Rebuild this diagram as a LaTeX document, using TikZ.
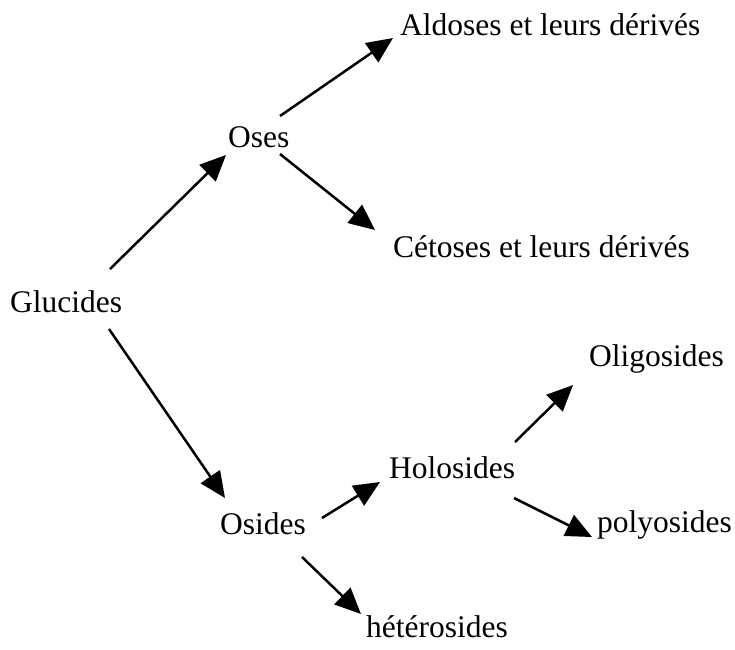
\documentclass[tikz,border=0pt]{standalone}
\usepackage{fontspec}
\setmainfont{Liberation Serif}
\usetikzlibrary{arrows.meta}
\begin{document}
\begin{tikzpicture}[x=1pt,y=-1pt,
  term/.style={anchor=base west,inner sep=0pt,font=\fontsize{31.5}{36}\selectfont},
  link/.style={line width=2.5pt,-{Triangle[length=26pt,width=23pt]}}]
\useasboundingbox (0,0) rectangle (735,649);
% classification terms
\node[term] (glu)   at (10,312)  {Glucides};
\node[term] (oses)  at (228,147) {Oses};
\node[term] (ald)   at (400,35)  {Aldoses et leurs dérivés};
\node[term] (cet)   at (393,257) {Cétoses et leurs dérivés};
\node[term] (osi)   at (220,534) {Osides};
\node[term] (holo)  at (389,478) {Holosides};
\node[term] (oligo) at (589,366) {Oligosides};
\node[term] (poly)  at (597,532) {polyosides};
\node[term] (het)   at (366,637) {hétérosides};
% branches
\draw[link] ([shift={(100,-43)}]glu.base west)  -- ([shift={(-2,8)}]oses.base west);
\draw[link] ([shift={(52,-31)}]oses.base west)  -- ([shift={(-7,3)}]ald.base west);
\draw[link] ([shift={(52,7)}]oses.base west)    -- ([shift={(-18,-27)}]cet.base west);
\draw[link] ([shift={(99,17)}]glu.base west)    -- ([shift={(5,-36)}]osi.base west);
\draw[link] ([shift={(102,-16)}]osi.base west)  -- ([shift={(-9,4)}]holo.base west);
\draw[link] ([shift={(82,23)}]osi.base west)    -- ([shift={(-5,-23)}]het.base west);
\draw[link] ([shift={(126,-36)}]holo.base west) -- ([shift={(-16,19)}]oligo.base west);
\draw[link] ([shift={(125,20)}]holo.base west)  -- ([shift={(-5,5)}]poly.base west);
\end{tikzpicture}
\end{document}
